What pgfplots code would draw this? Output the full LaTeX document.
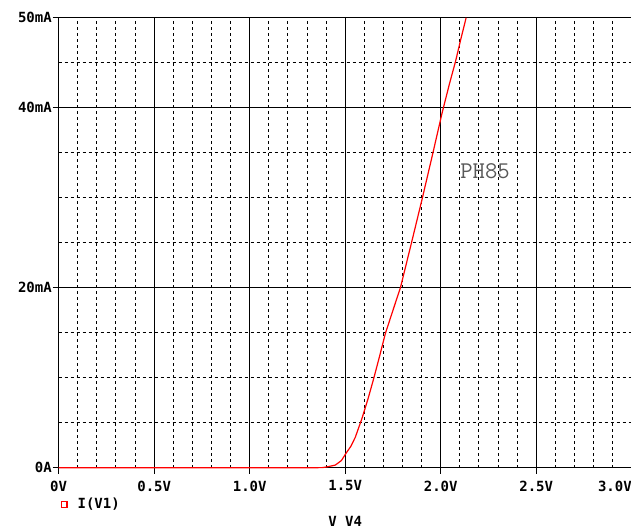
\documentclass[border=0pt]{standalone}
\usepackage{fontspec}
\usepackage{pgfplots}
\pgfplotsset{compat=1.18}
\newfontfamily\pix{DejaVu Sans Mono}

% 1 px of the reference = 0.75pt
\begin{document}
\begin{tikzpicture}
\useasboundingbox (-44pt,-45.2pt) rectangle (429.2pt,350.8pt);
\begin{axis}[
  at={(0,0)}, anchor=south west,
  scale only axis, width=429.75pt, height=337.5pt,
  xmin=0, xmax=3, ymin=0, ymax=50,
  clip=false,
  separate axis lines,
  axis line style={black, line width=0.9pt},
  x axis line style={draw=none},
  xtick={0,0.5,1,1.5,2,2.5,3},
  xticklabels={0V,0.5V,1.0V,1.5V,2.0V,2.5V,\makebox[0pt][r]{3.0V}},
  minor x tick num=4,
  ytick={0,20,40,50},
  yticklabels={0A,20mA,40mA,50mA},
  minor ytick={5,10,15,25,30,35,45},
  tick align=outside, tick pos=left,
  major tick length=4.5pt, minor tick length=0pt,
  tick style={black, line width=0.75pt},
  grid=both,
  major grid style={black, line width=0.9pt},
  minor grid style={black, line width=0.75pt, dash pattern=on 2.25pt off 2.25pt},
  ticklabel style={font=\pix\bfseries\fontsize{10.5pt}{12pt}\selectfont},
  xticklabel style={inner sep=0pt, yshift=-5pt},
  yticklabel style={inner sep=0pt, xshift=-0.5pt},
  xlabel={V V4},
  xlabel style={at={(axis description cs:0.5,0)}, anchor=center, yshift=-40pt,
    font=\pix\bfseries\fontsize{10.5pt}{12pt}\selectfont},
  legend style={draw=none, fill=none, anchor=west, at={(axis description cs:0,0)},
    xshift=0pt, yshift=-27.5pt, inner sep=0pt,
    font=\pix\bfseries\fontsize{10.5pt}{12pt}\selectfont},
  legend image code/.code={\path[draw=none] (0pt,0pt) -- (12pt,0pt);
    \path[draw=red, line width=0.9pt] (1.9pt,-2.1pt) rectangle (6.1pt,2.1pt);},
]
\addplot[red, line width=0.9pt] coordinates {
  (0,0) (1.30,0) (1.38,0.02) (1.405,0.1) (1.448,0.3) (1.48,0.8) (1.504,1.6)
  (1.53,2.4) (1.553,3.4) (1.588,5.5) (1.62,7.7) (1.649,9.9) (1.68,12.4) (1.710,14.9)
  (1.75,17.5) (1.789,20.0) (1.847,25.0) (1.902,29.8) (1.955,34.6) (2.007,39.4)
  (2.045,42.6) (2.077,45.1) (2.105,47.6) (2.133,50.0)
};
\addlegendentry{I(V1)}
\node[text=black!65, font=\ttfamily\fontsize{18pt}{20pt}\selectfont] at (axis cs:2.232,33.0) {PH85};
\end{axis}
\end{tikzpicture}
\end{document}
